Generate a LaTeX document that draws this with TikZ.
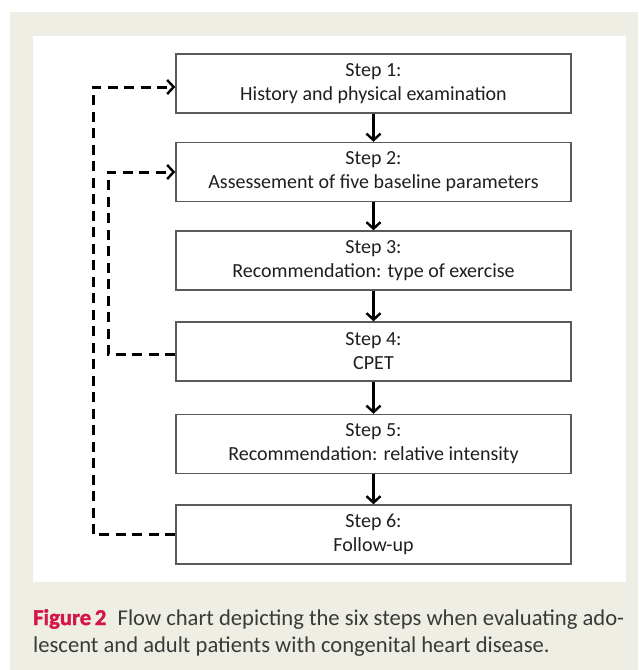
\documentclass[tikz,border=0pt]{standalone}
\usepackage{fontspec}
\setmainfont{Carlito}
\newfontfamily\heavyfont{Carlito}[BoldFeatures={FakeBold=1.6}]
\usetikzlibrary{arrows.meta}
\definecolor{panel}{HTML}{EFEEE4}
\definecolor{figred}{HTML}{D4164A}
\definecolor{captxt}{HTML}{3A3A3A}
\definecolor{boxline}{HTML}{5A5A5A}
\tikzset{
  stepbox/.style={draw=boxline, line width=1.4pt, fill=white, minimum width=395pt, minimum height=59pt,
    inner sep=0pt, align=center, font=\fontsize{20}{24}\selectfont, text=black!88},
  flow/.style={line width=2.8pt, -{Straight Barb[length=6.5pt,width=14pt,line width=2.4pt]}},
  loopback/.style={line width=3pt, dash pattern=on 10pt off 6.5pt},
  looparrow/.style={loopback, -{Straight Barb[length=6.5pt,width=14pt,line width=2.4pt]}}
}
\begin{document}
\begin{tikzpicture}[x=1pt,y=-1pt]
\useasboundingbox (0,0) rectangle (638,670);
\fill[panel] (10,12) rectangle (638,670);
\fill[white] (33,36) rectangle (626,582);
\node[stepbox] (s1) at (373.5,83.5) {Step 1:\\History and physical examination};
\node[stepbox] (s2) at (373.5,172) {Step 2:\\Assessement of five baseline parameters};
\node[stepbox] (s3) at (373.5,260.5) {Step 3:\\Recommendation: type of exercise};
\node[stepbox] (s4) at (373.5,351.5) {Step 4:\\CPET};
\node[stepbox] (s5) at (373.5,444) {Step 5:\\Recommendation: relative intensity};
\node[stepbox] (s6) at (373.5,534.5) {Step 6:\\Follow-up};
\draw[flow] (s1) -- (s2);
\draw[flow] (s2) -- (s3);
\draw[flow] (s3) -- (s4);
\draw[flow] (s4) -- (s5);
\draw[flow] (s5) -- (s6);
\coordinate (o1) at (93,534.5);
\coordinate (o2) at (93,87);
\coordinate (i1) at (108,354);
\coordinate (i2) at (108,172);
\draw[looparrow] (s6.west) -- (o1) -- (o2) -- (s1.west |- o2);
\draw[looparrow] (s4.west |- i1) -- (i1) -- (i2) -- (s2.west |- i2);
\node[anchor=base west, inner sep=0pt, font=\fontsize{22.6}{27}\selectfont, text=captxt, align=left] (cap) at (33,652)
  {{\color{figred}\heavyfont\bfseries Figure\,2}\hspace{0.5em}Flow chart depicting the six steps when evaluating ado-\\lescent and adult patients with congenital heart disease.};
\end{tikzpicture}
\end{document}
